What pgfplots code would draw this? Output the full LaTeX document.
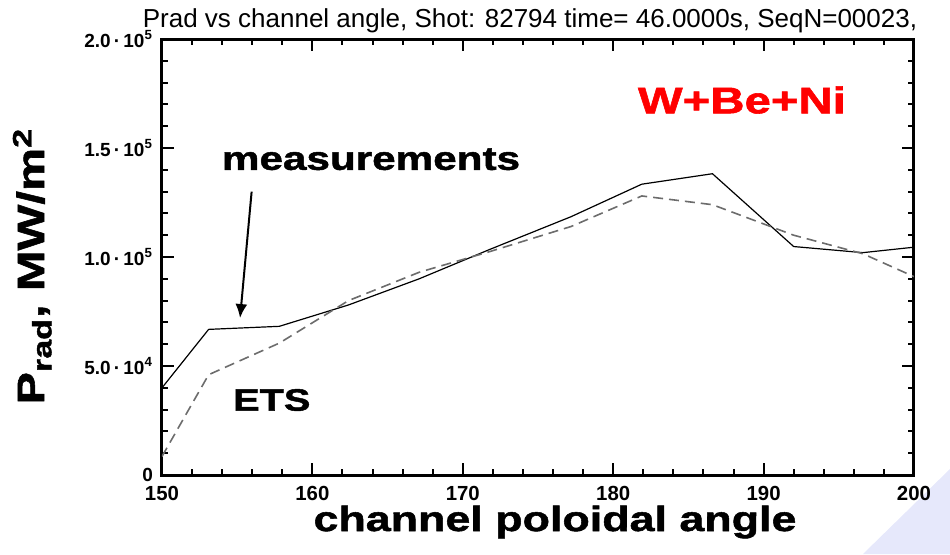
\documentclass[border=0pt]{standalone}
\usepackage{fontspec}
\setmainfont{Liberation Sans}
\newfontfamily\blackfont{Liberation Sans Bold}[FakeStretch=1.28,FakeBold=1.5]
\usepackage{pgfplots}
\pgfplotsset{compat=1.18}
\usetikzlibrary{arrows.meta}
\definecolor{swoosh}{RGB}{230,232,251}
\begin{document}
\begin{tikzpicture}
\useasboundingbox (-81pt,-39.5pt) rectangle (394pt,237.5pt);
\fill[swoosh] (350.5pt,-39.5pt) -- (394pt,3pt) -- (394pt,-39.5pt) -- cycle;
\begin{axis}[
  at={(0pt,0pt)}, anchor=south west,
  scale only axis, width=376pt, height=218pt,
  xmin=150, xmax=200, ymin=0, ymax=200000,
  xtick={150,160,...,200},
  minor x tick num=4,
  ytick={0,50000,100000,150000,200000},
  yticklabels={0,5.0\,·\,10\textsuperscript{4},1.0\,·\,10\textsuperscript{5},1.5\,·\,10\textsuperscript{5},2.0\,·\,10\textsuperscript{5}},
  minor y tick num=4,
  tick align=inside,
  major tick length=6pt, minor tick length=3.2pt,
  axis line style={line width=1.5pt},
  every tick/.style={black, line width=1pt},
  /pgf/number format/assume math mode=true,
  xticklabel style={font=\fontsize{10.2}{11}\selectfont\bfseries, inner sep=0pt, yshift=-5.5pt},
  yticklabel style={font=\fontsize{9.5}{10}\selectfont\bfseries, xshift=-1pt},
  scaled y ticks=false,
  xlabel={channel poloidal angle},
  xlabel style={font=\fontsize{17.5}{18}\selectfont\blackfont, inner sep=0pt, at={(axis description cs:0.5226,0)}, anchor=base, yshift=-28pt},
  ylabel={P\textsubscript{rad}, MW/m\textsuperscript{2}},
  ylabel style={font=\fontsize{19}{20}\selectfont\blackfont, at={(axis description cs:-0.1569,0.479)}, anchor=base},
]
\addplot[black, line width=0.6pt] table {
x y
150.0 40000
153.1 66800
157.8 68200
162.4 78000
167.1 90000
171.8 103500
177.2 118500
181.9 133400
186.6 138200
192.0 104800
196.6 102000
200.0 104500
};
\addplot[gray!85!black, line width=0.8pt, dash pattern=on 5pt off 3pt] table {
x y
150.0 8500
153.1 46000
157.8 60500
162.4 80000
167.1 93000
171.8 102500
177.2 114000
181.9 128000
186.6 124000
192.0 110000
196.6 101500
200.0 91000
};
\node[font=\fontsize{18.5}{19}\selectfont\blackfont, text=red] at (axis cs:188.56,172000) {W+Be+Ni};
\node[font=\fontsize{16.5}{17}\selectfont\blackfont, anchor=base] at (axis cs:163.9,140000) {measurements};
\node[font=\fontsize{15.5}{16}\selectfont\blackfont] at (axis cs:157.3,34400) {ETS};
\draw[line width=1pt, -{Latex[length=7pt,width=6pt]}] (axis cs:155.96,130000) -- (axis cs:155.19,72000);
\end{axis}
\node[anchor=base, font=\fontsize{13}{14}\selectfont] at (184pt,224pt) {Prad vs channel angle, Shot: 82794 time= 46.0000s, SeqN=00023,};
\end{tikzpicture}
\end{document}
